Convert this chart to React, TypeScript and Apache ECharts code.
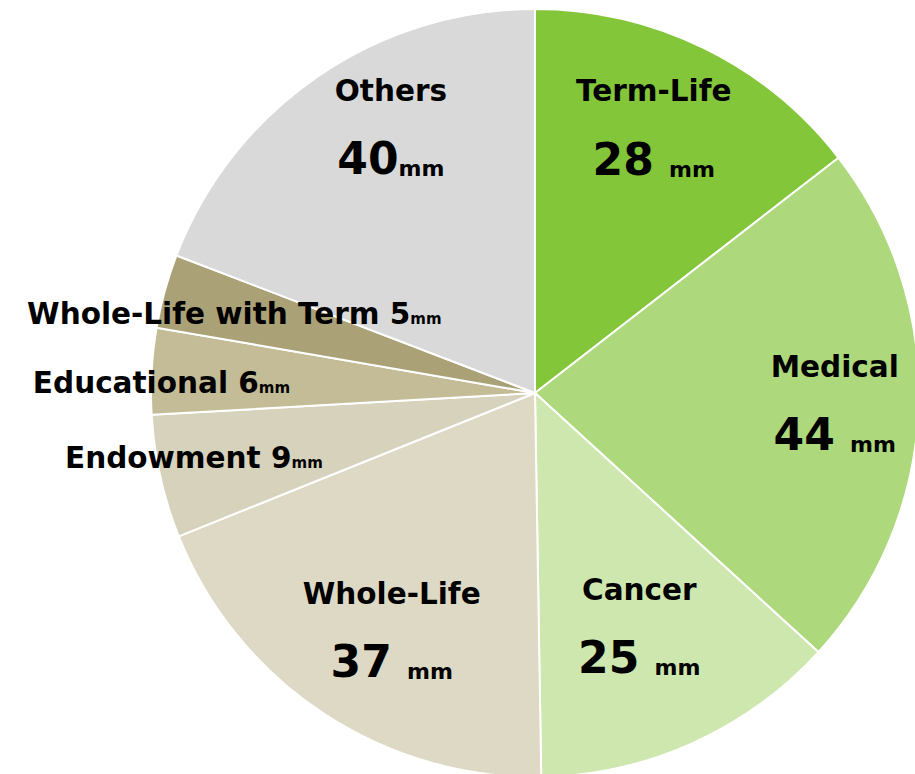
import React, { useEffect, useRef } from "react";
import * as echarts from "echarts";

// Categories, clockwise from 12 o'clock
const categories = [
  "Term-Life",
  "Medical",
  "Cancer",
  "Whole-Life",
  "Endowment",
  "Educational",
  "Whole-Life with Term",
  "Others",
];
// Slice shares
const sliceShares = [28, 43, 25, 37, 10, 7, 6, 37];
// Amounts printed in the labels
const labelAmounts = [28, 44, 25, 37, 9, 6, 5, 40];
// Label kind: "block" = two lines inside, "inline" = one line
const labelKinds = ["block", "block", "block", "block", "inline", "inline", "inline", "block"];
const unitGap = [" ", " ", " ", " ", "", "", "", ""];

const sliceColors = [
  "#84C63A",
  "#ADD87B",
  "#CDE7AE",
  "#DDD9C4",
  "#D6D2BB",
  "#C3BC96",
  "#AAA276",
  "#D9D9D9",
];
// label nudges [dx, dy]
const labelNudges = [
  [-8, -5],
  [12, 0],
  [-14, -28],
  [16, -1],
  [-60, 2],
  [-86, 6],
  [-23, -3],
  [19, -27],
];

const FONT = "DejaVu Sans";

export default function App() {
  const ref = useRef<HTMLDivElement>(null);
  useEffect(() => {
    if (!ref.current) return;
    const chart = echarts.init(ref.current, undefined, { renderer: "svg" });
    const center = [535, 393];
    const mainData = categories.map((name, i) => ({
      name,
      value: sliceShares[i],
      itemStyle: { color: sliceColors[i] },
    }));
    const labelData = categories.map((name, i) => ({
      name,
      value: sliceShares[i],
    }));
    chart.setOption({
      animation: false,
      series: [
        {
          type: "pie",
          center,
          radius: [0, 384],
          startAngle: 90,
          clockwise: true,
          silent: true,
          label: { show: false },
          labelLine: { show: false },
          itemStyle: { borderColor: "#ffffff", borderWidth: 2 },
          data: mainData,
        },
        {
          type: "pie",
          center,
          radius: [190, 380],
          startAngle: 90,
          clockwise: true,
          silent: true,
          z: 5,
          itemStyle: { color: "rgba(0,0,0,0)", borderWidth: 0 },
          labelLine: { show: false },
          label: {
            show: true,
            position: "inside",
            color: "#000",
            fontFamily: FONT,
            formatter: (p: any) => {
              const i = p.dataIndex;
              if (labelKinds[i] === "inline") {
                return `{sname|${categories[i]} ${labelAmounts[i]}}{smm|mm}`;
              }
              return `{name|${categories[i]}}\n{num|${labelAmounts[i]}${unitGap[i]}}{mm|mm}`;
            },
            rich: {
              name: {
                fontFamily: FONT,
                fontWeight: "bold",
                fontSize: 29.5,
                lineHeight: 60,
                color: "#000",
                align: "center",
              },
              num: {
                fontFamily: FONT,
                fontWeight: "bold",
                fontSize: 44,
                lineHeight: 76,
                color: "#000",
              },
              mm: {
                fontFamily: FONT,
                fontWeight: "bold",
                fontSize: 22,
                verticalAlign: "bottom",
                padding: [0, 0, 17, 0],
                color: "#000",
              },
              sname: {
                fontFamily: FONT,
                fontWeight: "bold",
                fontSize: 29.5,
                lineHeight: 36,
                color: "#000",
              },
              smm: {
                fontFamily: FONT,
                fontWeight: "bold",
                fontSize: 15,
                verticalAlign: "bottom",
                padding: [0, 0, 5, 0],
                color: "#000",
              },
            },
          },
          labelLayout: (params: any) => {
            const n = labelNudges[params.dataIndex] || [0, 0];
            return { dx: n[0], dy: n[1] };
          },
          data: labelData,
        },
      ],
    });
    return () => chart.dispose();
  }, []);
  return (
    <div
      ref={ref}
      style={{ position: "fixed", left: 0, top: 0, width: 915, height: 774, background: "#ffffff" }}
    />
  );
}
